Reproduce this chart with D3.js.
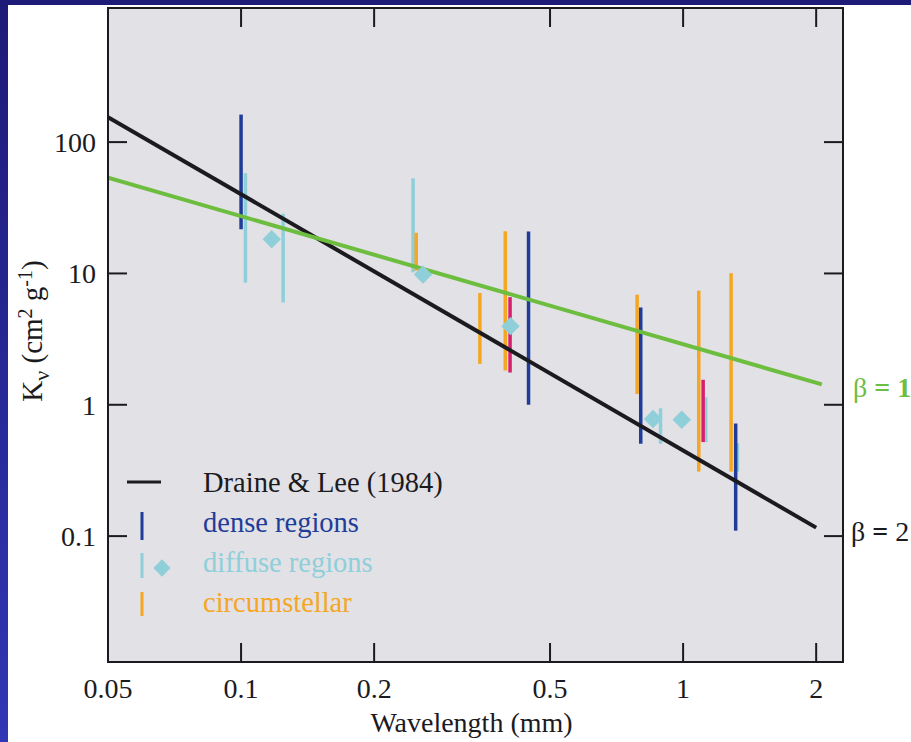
<!DOCTYPE html>
<html>
<head>
<meta charset="utf-8">
<script src="https://cdn.jsdelivr.net/npm/d3@7"></script>
<style>
  html, body { margin: 0; padding: 0; background: #fff; }
  svg { display: block; font-family: "Liberation Serif", "DejaVu Serif", serif; }
</style>
</head>
<body>
<svg id="kappa" width="911" height="742"></svg>
<script>
// opacity data: [wavelength (mm), kappa low, kappa high]
const denseBars = [[0.1, 21.7, 162], [0.447, 1.0, 20.9], [0.802, 0.505, 5.5], [1.315, 0.11, 0.72]];
const diffuseBars = [[0.1023, 8.5, 58], [0.1245, 6.0, 28.5], [0.245, 10.2, 53], [0.889, 0.505, 0.94], [1.125, 0.52, 1.14], [1.327, 0.31, 0.51]];
const circumBars = [[0.249, 10.5, 20.4], [0.347, 2.05, 7.1], [0.396, 1.82, 21.0], [0.787, 1.21, 6.9], [1.085, 0.31, 7.4], [1.284, 0.31, 10.05]];
const otherBars = [[0.406, 1.76, 6.6], [1.11, 0.52, 1.55]];
const diffusePoints = [[0.1173, 18.2], [0.258, 9.8], [0.407, 3.97], [0.855, 0.78], [0.993, 0.77]];
// power-law fits, endpoints
const draineLee = [[0.05, 155], [2.0, 0.116]];
const betaOne = [[0.05, 53.6], [2.06, 1.43]];

const xTicks = [0.05, 0.1, 0.2, 0.5, 1, 2];
const xTickLabels = ["0.05", "0.1", "0.2", "0.5", "1", "2"];
const yTicks = [0.1, 1, 10, 100];
const yTickLabels = ["0.1", "1", "10", "100"];

const svg = d3.select("#kappa");
const width = +svg.attr("width");
const height = +svg.attr("height");
const margin = { top: 8, right: 68, bottom: 80, left: 108 };
const plotRight = width - margin.right;
const plotBottom = height - margin.bottom;

const colors = {
    dense: "#1f3d98",
    diffuse: "#8fcfd9",
    circum: "#f5a623",
    other: "#d81f6f",
    black: "#1b1b1f",
    green: "#6dbd3f"
};

// outer frame: dark blue strips along top and left
const defs = svg.append("defs");
const grad = defs.append("linearGradient").attr("id", "edge").attr("x1", 0).attr("y1", 0).attr("x2", 0).attr("y2", 1);
grad.append("stop").attr("offset", "0%").attr("stop-color", "#1e1a78");
grad.append("stop").attr("offset", "100%").attr("stop-color", "#3136b4");
svg.append("rect").attr("x", 0).attr("y", 0).attr("width", width).attr("height", 5).attr("fill", "#1e1a78");
svg.append("rect").attr("x", 0).attr("y", 0).attr("width", 8).attr("height", height).attr("fill", "url(#edge)");

const x = d3.scaleLog().domain([0.05, 2.3]).range([margin.left, plotRight]);
const y = d3.scaleLog().domain([0.011, 1050]).range([plotBottom, margin.top]);

svg.append("rect")
    .attr("x", margin.left).attr("y", margin.top)
    .attr("width", plotRight - margin.left).attr("height", plotBottom - margin.top)
    .attr("fill", "#e2e1e6");

const plot = svg.append("g");
plot.append("clipPath").attr("id", "clip")
    .append("rect")
    .attr("x", margin.left).attr("y", margin.top)
    .attr("width", plotRight - margin.left).attr("height", plotBottom - margin.top);
const inner = plot.append("g").attr("clip-path", "url(#clip)");

// error bars
const drawBars = (data, color) => {
    inner.selectAll(null).data(data)
        .join("line")
        .attr("x1", d => x(d[0])).attr("x2", d => x(d[0]))
        .attr("y1", d => y(d[1])).attr("y2", d => y(d[2]))
        .attr("stroke", color)
        .attr("stroke-width", 3.5);
};
drawBars(diffuseBars, colors.diffuse);
drawBars(circumBars, colors.circum);
drawBars(otherBars, colors.other);
drawBars(denseBars, colors.dense);

// fitted lines
const line = d3.line().x(d => x(d[0])).y(d => y(d[1]));
inner.append("path").datum(draineLee)
    .attr("d", line).attr("fill", "none")
    .attr("stroke", colors.black).attr("stroke-width", 4);
inner.append("path").datum(betaOne)
    .attr("d", line).attr("fill", "none")
    .attr("stroke", colors.green).attr("stroke-width", 4);

// diffuse-region points
const diamond = d3.symbol().type(d3.symbolSquare).size(170);
inner.selectAll("path.pt").data(diffusePoints)
    .join("path")
    .attr("class", "pt")
    .attr("d", diamond)
    .attr("transform", d => `translate(${x(d[0])},${y(d[1])}) rotate(45)`)
    .attr("fill", colors.diffuse);

// axes: inward ticks on all four sides
const tickLen = 19;
const axes = svg.append("g").attr("stroke", colors.black).attr("stroke-width", 2);
xTicks.forEach(t => {
    axes.append("line").attr("x1", x(t)).attr("x2", x(t)).attr("y1", plotBottom).attr("y2", plotBottom - tickLen);
    axes.append("line").attr("x1", x(t)).attr("x2", x(t)).attr("y1", margin.top).attr("y2", margin.top + tickLen);
});
yTicks.forEach(t => {
    axes.append("line").attr("x1", margin.left).attr("x2", margin.left + tickLen).attr("y1", y(t)).attr("y2", y(t));
    axes.append("line").attr("x1", plotRight).attr("x2", plotRight - tickLen).attr("y1", y(t)).attr("y2", y(t));
});
axes.append("rect")
    .attr("x", margin.left).attr("y", margin.top)
    .attr("width", plotRight - margin.left).attr("height", plotBottom - margin.top)
    .attr("fill", "none");

const labels = svg.append("g").attr("fill", colors.black).style("font-size", "28px");
xTicks.forEach((t, i) => {
    labels.append("text").text(xTickLabels[i])
        .attr("x", x(t)).attr("y", plotBottom + 36)
        .attr("text-anchor", "middle");
});
yTicks.forEach((t, i) => {
    labels.append("text").text(yTickLabels[i])
        .attr("x", margin.left - 12).attr("y", y(t) + 10)
        .attr("text-anchor", "end");
});

labels.append("text").text("Wavelength (mm)")
    .attr("x", (margin.left + plotRight) / 2 - 4).attr("y", height - 10)
    .attr("text-anchor", "middle");

const ylab = labels.append("text")
    .attr("transform", `translate(42,${(margin.top + plotBottom) / 2 - 4}) rotate(-90)`)
    .attr("text-anchor", "middle")
    .style("font-size", "29px");
ylab.append("tspan").text("K");
ylab.append("tspan").text("ν").attr("dy", 7).style("font-size", "22px");
ylab.append("tspan").text(" (cm").attr("dy", -7);
ylab.append("tspan").text("2").attr("dy", -10).style("font-size", "20px");
ylab.append("tspan").text(" g").attr("dy", 10);
ylab.append("tspan").text("-1").attr("dy", -10).style("font-size", "20px");
ylab.append("tspan").text(")").attr("dy", 10);

// line labels at the right edge
const b1 = labels.append("text").attr("x", 853).attr("y", 397).attr("fill", colors.green);
b1.append("tspan").text("β ");
b1.append("tspan").text("= 1").style("font-weight", "bold");
const b2 = labels.append("text").attr("x", 851).attr("y", 541);
b2.append("tspan").text("β ");
b2.append("tspan").text("=").style("font-weight", "bold");
b2.append("tspan").text(" 2");

// legend
const legend = svg.append("g").style("font-size", "28.5px");
const legendX = 203;
legend.append("line").attr("x1", 127).attr("x2", 161).attr("y1", 482).attr("y2", 482)
    .attr("stroke", colors.black).attr("stroke-width", 3);
legend.append("text").text("Draine & Lee (1984)").attr("x", legendX).attr("y", 492).attr("fill", colors.black);

legend.append("line").attr("x1", 142).attr("x2", 142).attr("y1", 512).attr("y2", 540)
    .attr("stroke", colors.dense).attr("stroke-width", 3);
legend.append("text").text("dense regions").attr("x", legendX).attr("y", 532).attr("fill", colors.dense);

legend.append("line").attr("x1", 142).attr("x2", 142).attr("y1", 553).attr("y2", 578)
    .attr("stroke", colors.diffuse).attr("stroke-width", 3);
legend.append("path").attr("d", diamond.size(150))
    .attr("transform", "translate(162,568) rotate(45)")
    .attr("fill", colors.diffuse);
legend.append("text").text("diffuse regions").attr("x", legendX).attr("y", 572).attr("fill", colors.diffuse);

legend.append("line").attr("x1", 142).attr("x2", 142).attr("y1", 592).attr("y2", 616)
    .attr("stroke", colors.circum).attr("stroke-width", 3);
legend.append("text").text("circumstellar").attr("x", legendX).attr("y", 612).attr("fill", colors.circum);
</script>
</body>
</html>
